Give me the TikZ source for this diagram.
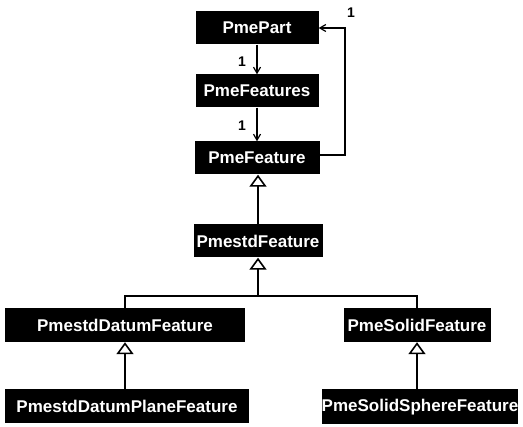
\documentclass[tikz,border=0pt]{standalone}
\usepackage{fontspec}
\setmainfont{Liberation Sans}
\usetikzlibrary{arrows.meta}
\begin{document}
\begin{tikzpicture}[x=1pt,y=-1pt,
  cls/.style={fill=black,text=white,font=\fontsize{17}{19}\selectfont\bfseries,inner sep=0pt,minimum height=33pt,anchor=center},
  inh/.style={line width=1.2pt,-{Triangle[open,width=17pt,length=12pt,line width=1.6pt]}},
  nav/.style={line width=1.2pt,-{Straight Barb[length=6pt,width=7pt]}},
  mult/.style={font=\fontsize{14}{16}\selectfont\bfseries,inner sep=0pt},
  link/.style={line width=1.2pt}]
\useasboundingbox (0,0) rectangle (523,427);
\node[cls,minimum width=123pt] (part) at (257,28) {PmePart};
\node[cls,minimum width=123pt] (feats) at (257,91) {PmeFeatures};
\node[cls,minimum width=125pt] (feat) at (257,158) {PmeFeature};
\node[cls,minimum width=129pt] (std) at (258,241) {PmestdFeature};
\node[cls,minimum width=240pt,minimum height=34pt] (datum) at (125,325) {PmestdDatumFeature};
\node[cls,minimum width=147pt,minimum height=34pt] (solid) at (417,325) {PmeSolidFeature};
\node[cls,minimum width=244pt,minimum height=34pt] (plane) at (127,406) {PmestdDatumPlaneFeature};
\node[cls,minimum width=196pt,minimum height=35pt] (sphere) at (420,407) {PmeSolidSphereFeature};
% associations
\draw[nav] (part) -- (feats);
\draw[nav] (feats) -- (feat);
\coordinate (r1) at (345,155);
\coordinate (r2) at (345,28);
\draw[nav] (feat.east |- r1) -- (r1) -- (r2) -- (part.east);
\node[mult] (m1) at (242,62) {1};
\node[mult] (m2) at (242,126) {1};
\node[mult] (m3) at (351,13) {1};
% generalizations
\draw[inh] (std.north) -- (std.north |- feat.south);
\coordinate (j) at (258,296);
\draw[inh] (j) -- (std.south);
\draw[link] (datum.north) |- (j) -| (solid.north);
\draw[inh] (plane.north -| datum.south) -- (datum.south);
\draw[inh] (sphere.north -| solid.south) -- (solid.south);
\end{tikzpicture}
\end{document}
